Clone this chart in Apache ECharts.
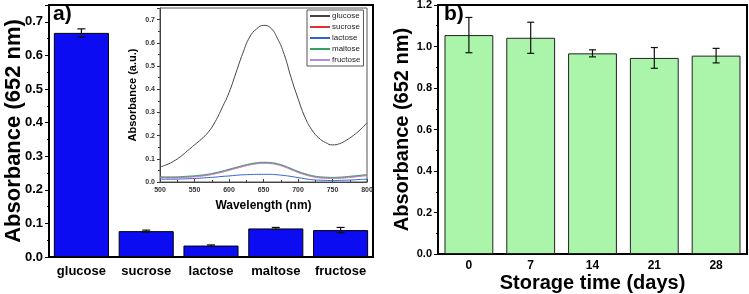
<!DOCTYPE html>
<html lang="en">
  <head>
    <meta charset="UTF-8" />
    <title>Absorbance at 652 nm</title>
    <script src="https://cdn.jsdelivr.net/npm/echarts@6/dist/echarts.min.js"></script>
    <style>
      html, body { margin: 0; padding: 0; background: #fff; }
      #main { width: 749px; height: 294px; }
    </style>
  </head>
  <body>
    <div id="main"></div>
    <script>
      // panel a) bars
      var sugars = ["glucose", "sucrose", "lactose", "maltose", "fructose"];
      var sugarAbs = [0.667, 0.077, 0.034, 0.085, 0.080];
      var sugarErr = [0.012, 0.003, 0.002, 0.003, 0.008];

      // inset spectra
      var wavelengths = [500, 510, 520, 530, 540, 550, 560, 570, 580, 590, 600, 610, 620, 630, 640, 650,
        660, 670, 680, 690, 700, 710, 720, 730, 740, 750, 760, 770, 780, 790, 800];
      var glucoseSpec = [0.065, 0.075, 0.09, 0.11, 0.135, 0.16, 0.185, 0.215, 0.26, 0.32, 0.385, 0.47, 0.555, 0.625, 0.66, 0.675,
        0.665, 0.62, 0.55, 0.45, 0.36, 0.28, 0.225, 0.19, 0.17, 0.16, 0.165, 0.18, 0.2, 0.225, 0.255];
      var sucroseSpec = [0.02, 0.019, 0.019, 0.02, 0.022, 0.024, 0.027, 0.031, 0.037, 0.044, 0.052, 0.06, 0.068, 0.075, 0.08, 0.082,
        0.081, 0.076, 0.067, 0.055, 0.043, 0.033, 0.025, 0.02, 0.018, 0.017, 0.018, 0.02, 0.023, 0.026, 0.029];
      var lactoseSpec = [0.012, 0.012, 0.012, 0.013, 0.014, 0.015, 0.017, 0.019, 0.021, 0.024, 0.026, 0.029, 0.031, 0.032, 0.033, 0.033,
        0.033, 0.031, 0.028, 0.024, 0.019, 0.014, 0.01, 0.008, 0.007, 0.006, 0.007, 0.008, 0.009, 0.011, 0.012];
      var maltoseSpec = [0.023, 0.022, 0.022, 0.023, 0.025, 0.027, 0.03, 0.034, 0.04, 0.047, 0.055, 0.063, 0.071, 0.078, 0.083, 0.085,
        0.084, 0.079, 0.07, 0.058, 0.046, 0.036, 0.028, 0.023, 0.021, 0.02, 0.021, 0.023, 0.026, 0.029, 0.032];
      var fructoseSpec = [0.018, 0.017, 0.017, 0.018, 0.02, 0.022, 0.025, 0.029, 0.035, 0.042, 0.05, 0.058, 0.066, 0.073, 0.078, 0.08,
        0.079, 0.074, 0.065, 0.053, 0.041, 0.031, 0.023, 0.018, 0.016, 0.015, 0.016, 0.018, 0.021, 0.024, 0.027];

      // panel b) storage
      var days = ["0", "7", "14", "21", "28"];
      var storageAbs = [1.055, 1.042, 0.967, 0.945, 0.956];
      var storageErr = [0.085, 0.075, 0.017, 0.05, 0.035];

      var FONT = "Arial, 'Liberation Sans', sans-serif";

      function pairs(ys) {
        return wavelengths.map(function (w, i) { return [w, ys[i]]; });
      }
      function errData(vals, errs) {
        return vals.map(function (v, i) { return [i, v, errs[i]]; });
      }
      function errRender(capW) {
        return function (params, api) {
          var i = api.value(0), v = api.value(1), e = api.value(2);
          var hi = api.coord([i, v + e]);
          var lo = api.coord([i, v - e]);
          var st = { stroke: "#111", lineWidth: 1.2 };
          return {
            type: "group",
            children: [
              { type: "line", shape: { x1: hi[0], y1: hi[1], x2: lo[0], y2: lo[1] }, style: st },
              { type: "line", shape: { x1: hi[0] - capW, y1: hi[1], x2: hi[0] + capW, y2: hi[1] }, style: st },
              { type: "line", shape: { x1: lo[0] - capW, y1: lo[1], x2: lo[0] + capW, y2: lo[1] }, style: st }
            ]
          };
        };
      }

      var chart = echarts.init(document.getElementById("main"));

      var boldLabel = function (size) {
        return { color: "#000", fontFamily: FONT, fontWeight: "bold", fontSize: size };
      };

      chart.setOption({
        animation: false,
        textStyle: { fontFamily: FONT },
        grid: [
          { left: 49, top: 5, width: 324, height: 252, show: true, borderColor: "#000", borderWidth: 2, outerBoundsMode: "none" },
          { left: 160, top: 8, width: 207, height: 174, show: true, borderColor: "#555", borderWidth: 1, z: 5, outerBoundsMode: "none" },
          { left: 438, top: 5, width: 309, height: 249, show: true, borderColor: "#000", borderWidth: 2, outerBoundsMode: "none" }
        ],
        legend: {
          data: ["glucose", "sucrose", "lactose", "maltose", "fructose"],
          orient: "vertical",
          left: 307,
          top: 10,
          icon: "rect",
          itemWidth: 20,
          itemHeight: 2,
          itemGap: 3,
          padding: [2, 3, 2, 3],
          borderColor: "#555",
          borderWidth: 1,
          backgroundColor: "#fff",
          textStyle: { fontSize: 8, color: "#222", padding: [0, 0, 0, -3] }
        },
        xAxis: [
          {
            type: "category", gridIndex: 0, data: sugars,
            axisLine: { lineStyle: { color: "#000", width: 2 } },
            axisTick: { alignWithLabel: true, length: 4, lineStyle: { color: "#000" } },
            axisLabel: Object.assign(boldLabel(13), { margin: 8, interval: 0 })
          },
          {
            type: "value", gridIndex: 1, min: 500, max: 800, interval: 50,
            name: "Wavelength (nm)", nameLocation: "middle", nameGap: 18, nameMoveOverlap: false,
            nameTextStyle: boldLabel(12),
            axisLine: { onZero: false, lineStyle: { color: "#333", width: 1 } },
            axisTick: { inside: true, length: 3, lineStyle: { color: "#333" } },
            minorTick: { show: true, splitNumber: 2, length: 2, lineStyle: { color: "#333" } },
            splitLine: { show: false },
            axisLabel: { color: "#333", fontSize: 7, fontWeight: "bold", margin: 5 }
          },
          {
            type: "category", gridIndex: 2, data: days,
            name: "Storage time (days)", nameLocation: "middle", nameGap: 19, nameMoveOverlap: false,
            nameTextStyle: boldLabel(20),
            axisLine: { lineStyle: { color: "#000", width: 2 } },
            axisTick: { alignWithLabel: true, length: 4, lineStyle: { color: "#000" } },
            axisLabel: Object.assign(boldLabel(12), { margin: 6, interval: 0 })
          }
        ],
        yAxis: [
          {
            type: "value", gridIndex: 0, min: 0, max: 0.75, interval: 0.1,
            name: "Absorbance (652 nm)", nameLocation: "middle", nameGap: 24, nameMoveOverlap: false,
            nameTextStyle: boldLabel(22),
            axisLine: { show: true, lineStyle: { color: "#000", width: 2 } },
            axisTick: { show: true, length: 4, lineStyle: { color: "#000" } },
            minorTick: { show: true, splitNumber: 2, length: 2, lineStyle: { color: "#000" } },
            splitLine: { show: false },
            axisLabel: Object.assign(boldLabel(13), {
              margin: 6, showMaxLabel: false,
              formatter: function (v) { return v.toFixed(1); }
            })
          },
          {
            type: "value", gridIndex: 1, min: 0, max: 0.75, interval: 0.1,
            name: "Absorbance (a.u.)", nameLocation: "middle", nameGap: 22, nameMoveOverlap: false,
            nameTextStyle: boldLabel(11),
            axisLine: { show: true, onZero: false, lineStyle: { color: "#333", width: 1 } },
            axisTick: { show: true, inside: false, length: 3, lineStyle: { color: "#333" } },
            minorTick: { show: true, splitNumber: 2, length: 2, lineStyle: { color: "#333" } },
            splitLine: { show: false },
            axisLabel: {
              color: "#333", fontSize: 7, fontWeight: "bold", margin: 5, showMaxLabel: false,
              formatter: function (v) { return v.toFixed(1); }
            }
          },
          {
            type: "value", gridIndex: 2, min: 0, max: 1.2, interval: 0.2,
            name: "Absorbance (652 nm)", nameLocation: "middle", nameGap: 26, nameMoveOverlap: false,
            nameTextStyle: boldLabel(20),
            axisLine: { show: true, lineStyle: { color: "#000", width: 2 } },
            axisTick: { show: true, length: 4, lineStyle: { color: "#000" } },
            minorTick: { show: true, splitNumber: 2, length: 2, lineStyle: { color: "#000" } },
            splitLine: { show: false },
            axisLabel: Object.assign(boldLabel(11), {
              margin: 6,
              formatter: function (v) { return v.toFixed(1); }
            })
          }
        ],
        graphic: [
          { type: "text", left: 53, top: 4, z: 10, style: { text: "a)", font: "bold 21px " + FONT, fill: "#000" } },
          { type: "text", left: 444, top: 4, z: 10, style: { text: "b)", font: "bold 21px " + FONT, fill: "#000" } }
        ],
        series: [
          {
            type: "bar", xAxisIndex: 0, yAxisIndex: 0, data: sugarAbs, barWidth: "85%",
            itemStyle: { color: "#0c0cf2", borderColor: "#000", borderWidth: 1 }, z: 2
          },
          {
            type: "custom", xAxisIndex: 0, yAxisIndex: 0, data: errData(sugarAbs, sugarErr),
            renderItem: errRender(4), z: 3
          },
          { name: "glucose", type: "line", xAxisIndex: 1, yAxisIndex: 1, data: pairs(glucoseSpec), smooth: true, showSymbol: false, lineStyle: { color: "#444", width: 1 }, itemStyle: { color: "#444" }, z: 6 },
          { name: "sucrose", type: "line", xAxisIndex: 1, yAxisIndex: 1, data: pairs(sucroseSpec), smooth: true, showSymbol: false, lineStyle: { color: "#e0303a", width: 1 }, itemStyle: { color: "#e0303a" }, z: 6 },
          { name: "lactose", type: "line", xAxisIndex: 1, yAxisIndex: 1, data: pairs(lactoseSpec), smooth: true, showSymbol: false, lineStyle: { color: "#2f62d0", width: 1 }, itemStyle: { color: "#2f62d0" }, z: 6 },
          { name: "maltose", type: "line", xAxisIndex: 1, yAxisIndex: 1, data: pairs(maltoseSpec), smooth: true, showSymbol: false, lineStyle: { color: "#3a9a6a", width: 1 }, itemStyle: { color: "#3a9a6a" }, z: 6 },
          { name: "fructose", type: "line", xAxisIndex: 1, yAxisIndex: 1, data: pairs(fructoseSpec), smooth: true, showSymbol: false, lineStyle: { color: "#b08ee0", width: 1 }, itemStyle: { color: "#b08ee0" }, z: 6 },
          {
            type: "bar", xAxisIndex: 2, yAxisIndex: 2, data: storageAbs, barWidth: "79%",
            itemStyle: { color: "#aaf5aa", borderColor: "#222", borderWidth: 1 }, z: 2
          },
          {
            type: "custom", xAxisIndex: 2, yAxisIndex: 2, data: errData(storageAbs, storageErr),
            renderItem: errRender(3.5), z: 3
          }
        ]
      });
    </script>
  </body>
</html>
